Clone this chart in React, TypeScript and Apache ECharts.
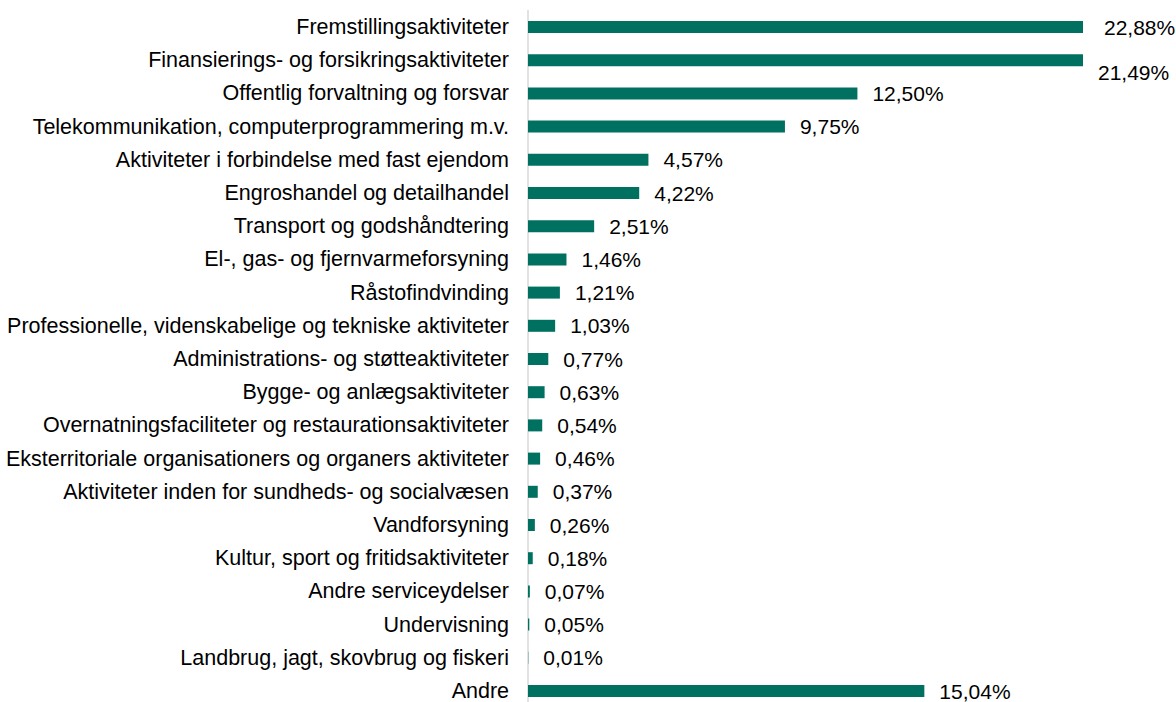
import React, { useEffect, useRef } from "react";
import * as echarts from "echarts";

const categories = [
  "Fremstillingsaktiviteter",
  "Finansierings- og forsikringsaktiviteter",
  "Offentlig forvaltning og forsvar",
  "Telekommunikation, computerprogrammering m.v.",
  "Aktiviteter i forbindelse med fast ejendom",
  "Engroshandel og detailhandel",
  "Transport og godshåndtering",
  "El-, gas- og fjernvarmeforsyning",
  "Råstofindvinding",
  "Professionelle, videnskabelige og tekniske aktiviteter",
  "Administrations- og støtteaktiviteter",
  "Bygge- og anlægsaktiviteter",
  "Overnatningsfaciliteter og restaurationsaktiviteter",
  "Eksterritoriale organisationers og organers aktiviteter",
  "Aktiviteter inden for sundheds- og socialvæsen",
  "Vandforsyning",
  "Kultur, sport og fritidsaktiviteter",
  "Andre serviceydelser",
  "Undervisning",
  "Landbrug, jagt, skovbrug og fiskeri",
  "Andre",
];

const values = [
  22.88, 21.49, 12.5, 9.75, 4.57, 4.22, 2.51, 1.46, 1.21, 1.03, 0.77, 0.63, 0.54,
  0.46, 0.37, 0.26, 0.18, 0.07, 0.05, 0.01, 15.04,
];

const FONT = "'Liberation Sans', Arial, sans-serif";
const COLOR = "#007060";

export default function App() {
  const ref = useRef<HTMLDivElement>(null);
  useEffect(() => {
    if (!ref.current) return;
    const chart = echarts.init(ref.current, null, { renderer: "svg" });
    const data = values.map((v, i) => {
      const item: any = { value: v };
      if (i === 0) item.label = { offset: [6, 0] };
      if (i === 1) item.label = { offset: [0, 12] };
      return item;
    });
    chart.setOption({
      animation: false,
      grid: {
        left: 528,
        top: 10.4,
        height: 697.2,
        right: 93,
        outerBoundsMode: "none",
        containLabel: false,
      },
      xAxis: {
        type: "value",
        min: 0,
        max: 21.06,
        show: false,
      },
      yAxis: {
        type: "category",
        data: categories,
        inverse: true,
        axisLine: { show: true, lineStyle: { color: "#d9d9d9", width: 1.5 } },
        axisTick: { show: false },
        axisLabel: {
          margin: 19,
          fontSize: 21.5,
          color: "#000",
          fontFamily: FONT,
        },
      },
      series: [
        {
          type: "bar",
          data,
          barWidth: 12,
          itemStyle: { color: COLOR },
          clip: true,
          label: {
            show: true,
            position: "right",
            distance: 15,
            fontSize: 21,
            color: "#000",
            fontFamily: FONT,
            formatter: (p: any) => p.value.toFixed(2).replace(".", ",") + "%",
          },
        },
      ],
    });
    return () => chart.dispose();
  }, []);
  return (
    <div
      ref={ref}
      style={{ position: "absolute", left: 0, top: 0, width: 1176, height: 702 }}
    />
  );
}
